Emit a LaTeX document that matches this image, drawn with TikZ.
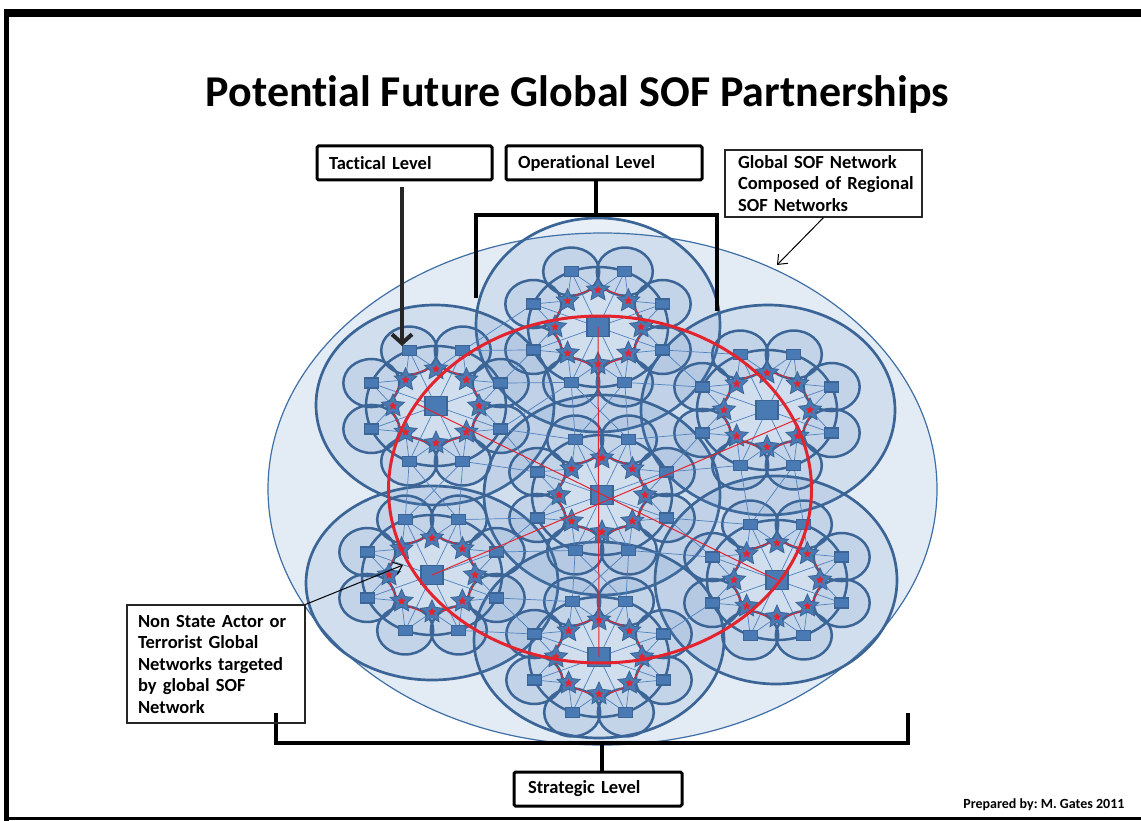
\documentclass[tikz,border=0pt]{standalone}
\usepackage{fontspec}
\setmainfont{Carlito}[Ligatures=NoCommon]
\usetikzlibrary{shapes.geometric,arrows.meta}
\definecolor{dkb}{HTML}{3B6596}
\definecolor{mdb}{HTML}{4F81BD}
\definecolor{sqb}{HTML}{4A7AB4}
\definecolor{lbg}{HTML}{E3EBF5}
\definecolor{gbd}{HTML}{3F6FA5}
\definecolor{rd}{HTML}{E3242F}
\definecolor{arrc}{HTML}{262626}
\newcommand\lblfont{\fontsize{18.5}{21.5}\selectfont\bfseries}
\frenchspacing
\begin{document}
\frenchspacing
\begin{tikzpicture}[x=1pt,y=-1pt,
  outerc/.style={draw=dkb,line width=2.7pt,fill=mdb,fill opacity=0.12},
  petal/.style={draw=dkb,line width=2.5pt,fill=mdb,fill opacity=0.10},
  ringc/.style={draw=dkb,line width=2.5pt},
  thinl/.style={draw=mdb,line width=0.7pt},
  redl/.style={draw=rd,line width=1pt},
  sqn/.style={rectangle,fill=sqb,draw=dkb,line width=1.2pt,minimum width=14pt,minimum height=10pt,inner sep=0pt},
  csq/.style={rectangle,fill=sqb,draw=dkb,line width=1.5pt,minimum width=22pt,minimum height=19pt,inner sep=0pt},
  bstar/.style={star,star points=5,star point ratio=2.1,minimum size=24pt,inner sep=0pt,fill=sqb,draw=dkb,line width=0.8pt},
  rstar/.style={star,star points=5,star point ratio=2.3,minimum size=9pt,inner sep=0pt,fill=rd},
  lvl/.style={draw=black,line width=3pt,rounded corners=1.5pt,minimum height=34pt,inner xsep=12pt,inner ysep=0pt,align=left,font=\lblfont},
  callbox/.style={draw=black!85,line width=1.2pt,inner ysep=0pt,align=left,font=\lblfont},
  brk/.style={draw=black,line width=3.6pt},
  callarr/.style={draw=black,line width=1pt,-{Straight Barb[length=8pt,width=13pt]}},
]
\useasboundingbox (0,0) rectangle (1141,821);
\fill[white] (0,0) rectangle (1141,821);
% frame
\fill[black] (5,9) rectangle (1141,17);
\fill[black] (4,9) rectangle (9,821);
\fill[black] (4,817) rectangle (1141,820);

% global network
\draw[fill=lbg,draw=gbd,line width=1.2pt] (602.5,489) ellipse [x radius=334.5,y radius=256];

\def\CX{{598,436,767,602,432,777,599}}
\def\CY{{327,406,410,495,575,580,657}}
\def\OX{{598,435,768,602,432,776,599}}
\def\OY{{325,405,410,495,583,580,640}}
\def\ORX{{122,119,127,118,126,121,125}}
\def\ORY{{107,100,105,100,97,104,98}}

% coordinates
\foreach \i in {0,...,6}{
  \pgfmathsetmacro\cx{\CX[\i]}
  \pgfmathsetmacro\cy{\CY[\i]}
  \coordinate (c\i) at (\cx,\cy);
  \foreach \k in {0,...,7}{
    \coordinate (s\i-\k) at ({\cx+70*cos(22.5+45*\k)},{\cy+60*sin(22.5+45*\k)});
    \coordinate (t\i-\k) at ({\cx+43*cos(90+45*\k)},{\cy+37*sin(90+45*\k)});
  }
}
% regional outer circles
\foreach \i in {0,...,6}{
  \pgfmathsetmacro\ox{\OX[\i]}
  \pgfmathsetmacro\oy{\OY[\i]}
  \pgfmathsetmacro\orx{\ORX[\i]}
  \pgfmathsetmacro\ory{\ORY[\i]}
  \draw[outerc] (\ox,\oy) ellipse [x radius=\orx,y radius=\ory];
}
% petals and rings
\foreach \i in {0,...,6}{
  \foreach \k in {0,...,7}{
    \draw[petal] (s\i-\k) ellipse [x radius=28,y radius=24];
  }
}
\foreach \i in {0,...,6}{
  \draw[ringc] (c\i) ellipse [x radius=70,y radius=60];
}
% thin links inside clusters
\foreach \i in {0,...,6}{
  \foreach \k in {0,...,7}{
    \pgfmathtruncatemacro\ka{mod(\k+1,8)}
    \pgfmathtruncatemacro\kb{mod(\k+2,8)}
    \draw[thinl] (c\i) -- (s\i-\k);
    \draw[thinl] (t\i-\k) -- (s\i-\ka);
    \draw[thinl] (t\i-\k) -- (s\i-\kb);
  }
}
% thin links between clusters
\foreach \i in {0,...,5}{
  \pgfmathtruncatemacro\ii{\i+1}
  \foreach \j in {\ii,...,6}{
    \foreach \k in {0,...,7}{
      \foreach \l in {0,...,7}{
        \pgfmathsetmacro\dd{veclen(\CX[\i]+70*cos(22.5+45*\k)-\CX[\j]-70*cos(22.5+45*\l),\CY[\i]+60*sin(22.5+45*\k)-\CY[\j]-60*sin(22.5+45*\l))}
        \ifdim\dd pt<85pt \draw[thinl] (s\i-\k) -- (s\j-\l); \fi
      }
    }
  }
}
% red inner circles
\foreach \i in {0,...,6}{
  \draw[redl,line width=0.9pt] (c\i) ellipse [x radius=43,y radius=37];
}
% nodes
\foreach \i in {0,...,6}{
  \node[csq] (cs\i) at (c\i) {};
  \foreach \k in {0,...,7}{
    \node[sqn] (sq\i-\k) at (s\i-\k) {};
    \node[bstar] (bs\i-\k) at (t\i-\k) {};
    \node[rstar] (rs\i-\k) at (t\i-\k) {};
  }
}
% red global target network
\draw[rd,line width=3pt] (600,489.5) ellipse [x radius=211.5,y radius=173.5];
\coordinate (r1) at (415,403);
\coordinate (r2) at (800,418);
\draw[redl] (c0) -- (c6);
\draw[redl] (r1) -- (c5);
\draw[redl] (c4) -- (r2);

% title
\node[font=\fontsize{44}{50}\selectfont\bfseries,anchor=base] (title) at (577.5,107) {Potential Future Global SOF Partnerships};

% level boxes
\node[lvl,text width=151pt] (tbox) at (404.5,163) {Tactical Level};
\node[lvl,text width=172pt] (obox) at (604,163) {Operational Level};
\node[lvl,text width=140pt,inner xsep=14pt] (sbox) at (598,789) {Strategic Level};

% tactical arrow
\coordinate (ttip) at (402,346);
\draw[arrc,line width=4pt,shorten <=6pt,-{Straight Barb[length=9pt,width=20pt]}] (tbox.south -| ttip) -- (ttip);

% operational bracket
\coordinate (obr) at (596,215);
\coordinate (ol) at (476,298);
\coordinate (or) at (717,311);
\draw[brk] (obox.south -| obr) -- (obr);
\draw[brk] (ol) -- (ol |- obr) -- (or |- obr) -- (or);

% strategic bracket
\coordinate (sbr) at (602,743);
\coordinate (sl) at (276,713);
\coordinate (sr) at (908,713);
\draw[brk] (sl) -- (sl |- sbr) -- (sr |- sbr) -- (sr);
\draw[brk] (sbr) -- (sbox.north -| sbr);

% callouts
\node[callbox,minimum width=197pt,minimum height=67pt,text width=171pt,inner xsep=13pt] (gbox) at (823.5,183.5) {\mbox{Global SOF Network}\\\mbox{Composed of Regional}\\\mbox{SOF Networks}};
\coordinate (gtip) at (777,265);
\draw[callarr] (gbox.south) -- (gtip);

\node[callbox,minimum width=178pt,minimum height=118pt,text width=156pt,inner xsep=11pt] (nbox) at (216,664) {\mbox{Non State Actor or}\\\mbox{Terrorist Global}\\\mbox{Networks targeted}\\\mbox{by global SOF}\\\mbox{Network}};
\coordinate (ntip) at (403,565);
\draw[callarr] (nbox.north east) -- (ntip);

\node[font=\fontsize{14}{16}\selectfont\bfseries,anchor=base east] (prep) at (1128,808.5) {Prepared by: M. Gates 2011};
\end{tikzpicture}
\end{document}
